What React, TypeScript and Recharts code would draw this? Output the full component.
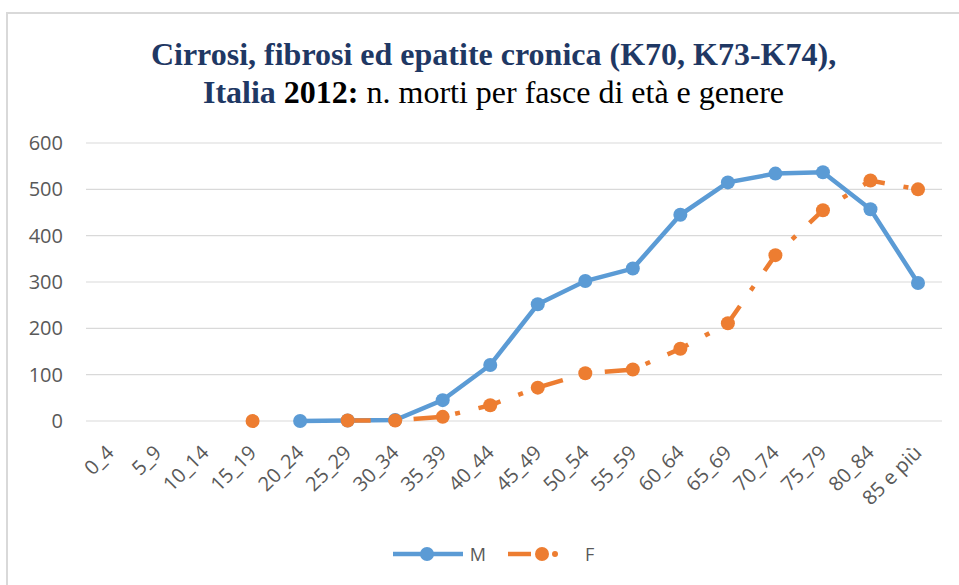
import { LineChart, Line, XAxis, YAxis, CartesianGrid, Legend } from "recharts";

const ageGroups = [
  "0_4", "5_9", "10_14", "15_19", "20_24", "25_29", "30_34", "35_39", "40_44",
  "45_49", "50_54", "55_59", "60_64", "65_69", "70_74", "75_79", "80_84", "85 e più",
];
const maleDeaths = [null, null, null, null, 0, 1, 2, 45, 121, 252, 302, 329, 445, 515, 534, 537, 457, 298];
const femaleDeaths = [null, null, null, 0, null, 1, 1, 9, 34, 72, 103, 111, 156, 211, 358, 455, 519, 500];
const yTicks = [0, 100, 200, 300, 400, 500, 600];

const series = [
  { key: "M", name: "M", color: "#5B9BD5", dash: undefined as string | undefined },
  { key: "F", name: "F", color: "#ED7D31", dash: "23 19 5 19" },
];

const data = ageGroups.map((age, i) => ({ age, M: maleDeaths[i], F: femaleDeaths[i] }));

const TICK_FONT = "'Open Sans', 'Noto Sans', sans-serif";
const NAVY = "#1F3864";

function AgeTick({ x, y, payload }: { x: number; y: number; payload: { value: string } }) {
  const ax = x + 5;
  const ay = y + 33;
  return (
    <text
      x={ax}
      y={ay}
      textAnchor="end"
      fill="#595959"
      fontSize={20}
      fontFamily={TICK_FONT}
      transform={`rotate(-45 ${ax} ${ay})`}
    >
      {payload.value}
    </text>
  );
}

function makeDot(color: string) {
  return (props: any) => {
    const { cx, cy, index, value } = props;
    if (cx == null || cy == null || value == null) return <g key={`d-${index}`} />;
    return <circle key={`d-${index}`} cx={cx} cy={cy} r={7} fill={color} />;
  };
}

function SeriesLegend() {
  return (
    <div
      style={{
        display: "flex",
        justifyContent: "center",
        alignItems: "center",
        height: 28,
        fontFamily: TICK_FONT,
        fontSize: 18,
        color: "#595959",
      }}
    >
      {series.map((s, i) => (
        <div key={s.key} style={{ display: "flex", alignItems: "center", marginLeft: i === 0 ? 0 : 22 }}>
          <svg width={70} height={20}>
            {s.dash ? (
              <>
                <line x1={0} y1={10} x2={23} y2={10} stroke={s.color} strokeWidth={4.5} />
                <circle cx={47} cy={10} r={3} fill={s.color} />
              </>
            ) : (
              <line x1={0} y1={10} x2={70} y2={10} stroke={s.color} strokeWidth={4.5} />
            )}
            <circle cx={34} cy={10} r={7} fill={s.color} />
          </svg>
          <span style={{ marginLeft: 7 }}>{s.name}</span>
        </div>
      ))}
    </div>
  );
}

export default function App() {
  return (
    <div
      style={{
        position: "absolute",
        left: 0,
        top: 0,
        width: 959,
        height: 585,
        background: "#fff",
        overflow: "hidden",
      }}
    >
      <div
        style={{
          position: "absolute",
          left: 6,
          top: 12,
          width: 1100,
          height: 1000,
          border: "2px solid #D9D9D9",
        }}
      />
      <div
        style={{
          position: "absolute",
          left: 14,
          top: 35,
          width: 959,
          textAlign: "center",
          fontFamily: "'Liberation Serif', 'Times New Roman', serif",
          fontSize: 32,
          lineHeight: "38px",
          color: "#000",
        }}
      >
        <div style={{ fontWeight: 700, color: NAVY }}>Cirrosi, fibrosi ed epatite cronica (K70, K73-K74),</div>
        <div>
          <span style={{ fontWeight: 700, color: NAVY }}>Italia </span>
          <span style={{ fontWeight: 700 }}>2012:</span> n. morti per fasce di età e genere
        </div>
      </div>
      <div style={{ position: "absolute", left: 0, top: 0 }}>
        <LineChart width={959} height={585} data={data} margin={{ top: 143, right: 17, left: 0, bottom: 74 }}>
          <CartesianGrid vertical={false} stroke="#D9D9D9" strokeWidth={1.2} />
          <XAxis
            dataKey="age"
            interval={0}
            height={90}
            padding={{ left: 24, right: 24 }}
            axisLine={false}
            tickLine={false}
            tickSize={0}
            tickMargin={0}
            tick={AgeTick as any}
          />
          <YAxis
            width={86}
            domain={[0, 600]}
            ticks={yTicks}
            axisLine={false}
            tickLine={false}
            tickSize={0}
            tickMargin={23}
            tick={{ fontSize: 20, fill: "#595959", fontFamily: TICK_FONT }}
          />
          <Legend
            verticalAlign="middle"
            align="center"
            layout="horizontal"
            content={() => <SeriesLegend />}
            wrapperStyle={{ top: 540, left: 14, width: 959, height: 28 }}
          />
          {series.map((s) => (
            <Line
              key={s.key}
              dataKey={s.key}
              name={s.name}
              stroke={s.color}
              strokeWidth={4.5}
              strokeDasharray={s.dash}
              dot={makeDot(s.color)}
              activeDot={false}
              isAnimationActive={false}
            />
          ))}
        </LineChart>
      </div>
    </div>
  );
}
